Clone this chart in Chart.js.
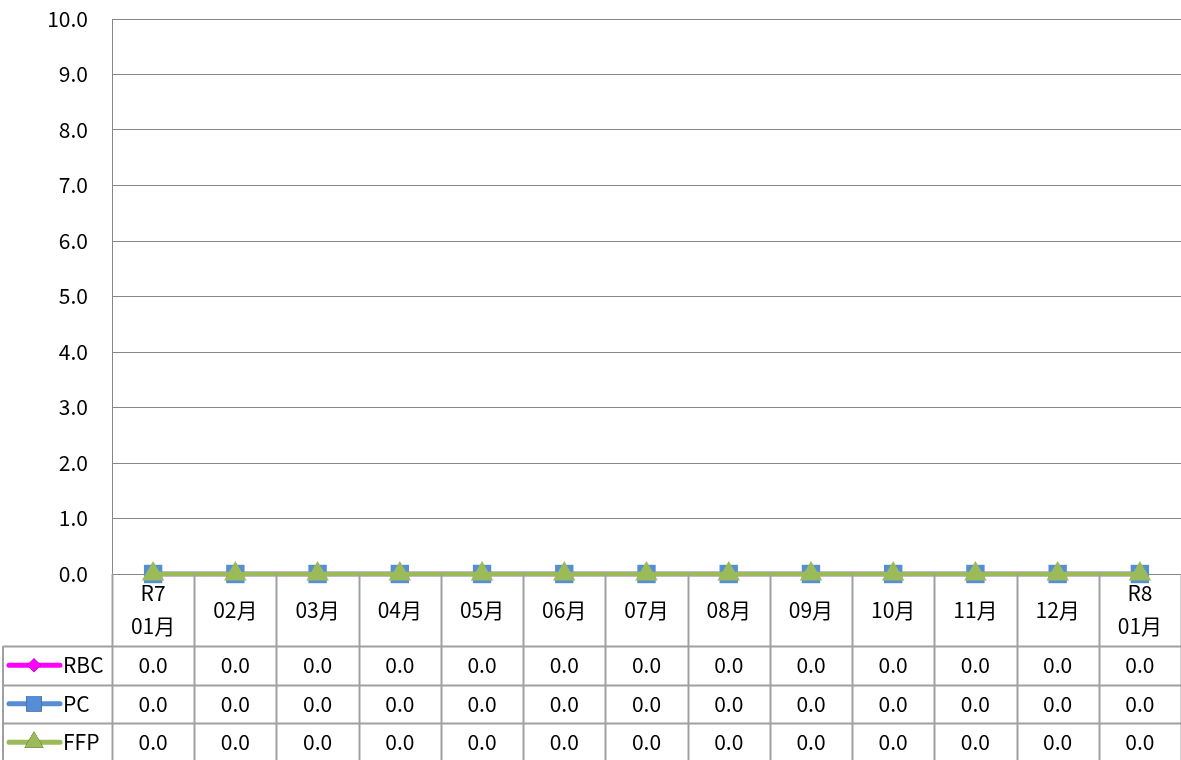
<!DOCTYPE html>
<html>
<head>
<meta charset="utf-8">
<script src="https://cdn.jsdelivr.net/npm/chart.js@4/dist/chart.umd.min.js"></script>
<style>
  html, body { margin: 0; padding: 0; background: #fff; }
  #wrap { width: 1181px; height: 760px; }
</style>
</head>
<body>
<div id="wrap"><canvas id="chart" width="1181" height="760"></canvas></div>
<script>
// categories (multi-line ones are arrays)
const categories = [["R7", "01月"], "02月", "03月", "04月", "05月", "06月", "07月",
  "08月", "09月", "10月", "11月", "12月", ["R8", "01月"]];
const seriesNames = ["RBC", "PC", "FFP"];
const rbcValues = [0, 0, 0, 0, 0, 0, 0, 0, 0, 0, 0, 0, 0];
const pcValues = [0, 0, 0, 0, 0, 0, 0, 0, 0, 0, 0, 0, 0];
const ffpValues = [0, 0, 0, 0, 0, 0, 0, 0, 0, 0, 0, 0, 0];
const yTicks = [0, 1, 2, 3, 4, 5, 6, 7, 8, 9, 10];

const FONT = "'Noto Sans CJK JP', 'Noto Sans', sans-serif";
const GRID = "#878787";
const TABLE_LINE = "#a0a0a0";

const colors = ["#ff00ff", "#558ed5", "#9bbb59"];
const styles = ["rectRot", "rect", "triangle"];
const radii = [7, 13, 13];

// draws the data table under the plot
const dataTable = {
  id: "dataTable",
  afterDraw(chart) {
    const ctx = chart.ctx;
    const xs = chart.scales.x;
    const area = chart.chartArea;
    const n = categories.length;
    const step = xs.getPixelForValue(1) - xs.getPixelForValue(0);
    const axisY = area.bottom;
    const headBottom = axisY + 72;
    const rowH = 38.5;
    const bottom = chart.height;
    const left = 3;

    ctx.save();
    ctx.strokeStyle = TABLE_LINE;
    ctx.lineWidth = 2;
    // vertical lines at category boundaries
    for (let i = 0; i <= n; i++) {
      const x = Math.round(xs.getPixelForValue(0) - step / 2 + i * step) + 0.5;
      ctx.beginPath();
      ctx.moveTo(x, axisY);
      ctx.lineTo(x, bottom);
      ctx.stroke();
    }
    // left border of legend column
    ctx.beginPath();
    ctx.moveTo(left, headBottom);
    ctx.lineTo(left, bottom);
    ctx.stroke();
    // horizontal row lines
    for (let r = 0; r < 3; r++) {
      const y = Math.round(headBottom + r * rowH) + 0.5;
      ctx.beginPath();
      ctx.moveTo(left, y);
      ctx.lineTo(chart.width, y);
      ctx.stroke();
    }

    // category labels
    ctx.fillStyle = "#000";
    ctx.font = "21px " + FONT;
    ctx.textAlign = "center";
    ctx.textBaseline = "middle";
    categories.forEach((c, i) => {
      const x = xs.getPixelForValue(i);
      if (Array.isArray(c)) {
        ctx.fillText(c[0], x, axisY + 19);
        ctx.fillText(c[1], x, axisY + 52);
      } else {
        ctx.fillText(c, x, axisY + 36);
      }
    });

    // rows: legend key + values
    chart.data.datasets.forEach((ds, r) => {
      const cy = headBottom + r * rowH + rowH / 2;
      ctx.strokeStyle = colors[r];
      ctx.lineWidth = 5;
      ctx.lineCap = "round";
      ctx.beginPath();
      ctx.moveTo(9, cy);
      ctx.lineTo(60, cy);
      ctx.stroke();
      Chart.helpers.drawPoint(ctx, {
        pointStyle: styles[r], radius: r === 0 ? 7 : 11, borderWidth: 0
      }, 34, cy);
      ctx.fillStyle = colors[r];
      ctx.fill();
      ctx.fillStyle = "#000";
      ctx.textAlign = "left";
      ctx.fillText(seriesNames[r], 63, cy);
      ctx.textAlign = "center";
      ds.data.forEach((v, i) => {
        ctx.fillText(v.toFixed(1), xs.getPixelForValue(i), cy);
      });
    });
    ctx.restore();
  }
};

const allValues = [rbcValues, pcValues, ffpValues];

new Chart(document.getElementById("chart"), {
  type: "line",
  data: {
    labels: categories,
    datasets: seriesNames.map((name, i) => ({
      label: name,
      data: allValues[i],
      borderColor: colors[i],
      backgroundColor: colors[i],
      borderWidth: 4.5,
      pointStyle: styles[i],
      pointRadius: radii[i],
      pointBorderWidth: 0,
      order: 2 - i,
      clip: false
    }))
  },
  options: {
    responsive: false,
    animation: false,
    layout: { autoPadding: false, padding: { top: 19, right: 0, left: 0, bottom: 0 } },
    plugins: { legend: { display: false }, tooltip: { enabled: false } },
    scales: {
      x: {
        offset: true,
        grid: { display: false },
        border: { display: true, color: GRID, width: 1 },
        ticks: { display: false },
        afterFit(scale) { scale.height = 186; }
      },
      y: {
        min: 0,
        max: 10,
        afterBuildTicks(scale) { scale.ticks = yTicks.map(v => ({ value: v })); },
        grid: { color: GRID, lineWidth: 1, drawTicks: false },
        border: { display: true, color: GRID, width: 1 },
        ticks: {
          padding: 24,
          color: "#000",
          font: { family: FONT, size: 21 },
          callback: v => v.toFixed(1)
        },
        afterFit(scale) {
          scale.width = 112;
          scale.paddingTop = 0;
          scale.paddingBottom = 0;
        }
      }
    }
  },
  plugins: [dataTable]
});
</script>
</body>
</html>
